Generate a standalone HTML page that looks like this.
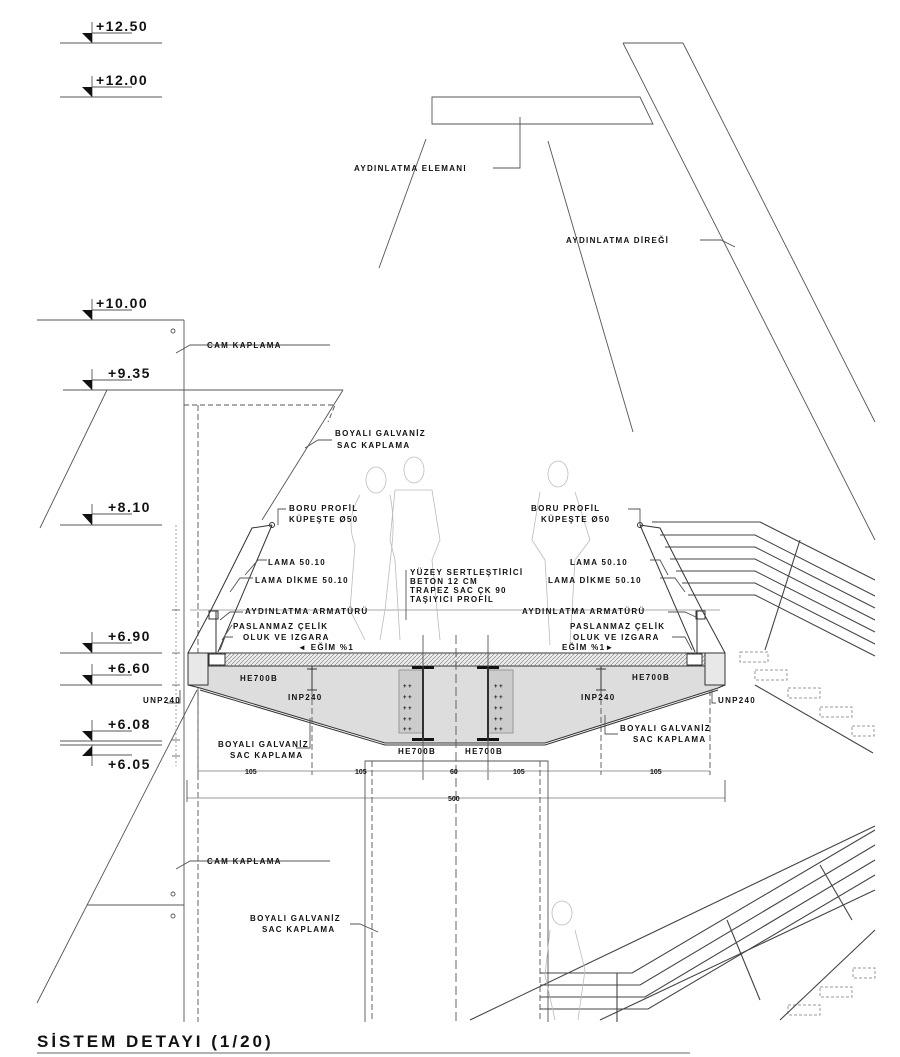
<!DOCTYPE html>
<html><head><meta charset="utf-8"><style>
html,body{margin:0;padding:0;background:#fff;}
svg{display:block;}
text{font-family:"Liberation Sans",sans-serif;font-weight:bold;fill:#111;}
.s{font-size:8px;letter-spacing:1.3px;}
.lv{font-size:14px;letter-spacing:1.5px;font-weight:bold;}
.d{font-size:7px;fill:#888;font-weight:normal;}
</style></head><body>
<svg width="900" height="1057" viewBox="0 0 900 1057" xmlns="http://www.w3.org/2000/svg">
<g fill="none" stroke="#555" stroke-width="0.9">
<g id="lvl">
<line x1="60" y1="43" x2="162" y2="43"/><line x1="92" y1="22" x2="92" y2="43"/><line x1="92" y1="33" x2="132" y2="33"/>
<line x1="60" y1="97" x2="162" y2="97"/><line x1="92" y1="76" x2="92" y2="97"/><line x1="92" y1="87" x2="132" y2="87"/>
<line x1="37" y1="320" x2="184" y2="320"/><line x1="92" y1="299" x2="92" y2="320"/><line x1="92" y1="310" x2="132" y2="310"/>
<line x1="63" y1="390" x2="343" y2="390"/><line x1="92" y1="369" x2="92" y2="390"/><line x1="92" y1="380" x2="132" y2="380"/>
<line x1="60" y1="525" x2="162" y2="525"/><line x1="92" y1="504" x2="92" y2="525"/><line x1="92" y1="514" x2="132" y2="514"/>
<line x1="60" y1="653" x2="162" y2="653"/><line x1="92" y1="632" x2="92" y2="653"/><line x1="92" y1="643" x2="132" y2="643"/>
<line x1="60" y1="685" x2="162" y2="685"/><line x1="92" y1="664" x2="92" y2="685"/><line x1="92" y1="675" x2="132" y2="675"/>
<line x1="60" y1="741" x2="162" y2="741"/><line x1="60" y1="745" x2="162" y2="745"/><line x1="92" y1="720" x2="92" y2="741"/><line x1="92" y1="731" x2="132" y2="731"/>
<line x1="92" y1="745" x2="92" y2="766"/><line x1="92" y1="755" x2="132" y2="755"/>
</g>
<line x1="184" y1="320" x2="184" y2="1022"/>
<line x1="107" y1="390" x2="40" y2="528"/>
<line x1="343" y1="390" x2="262" y2="520"/>
<line x1="197" y1="690" x2="37" y2="1003"/>
<line x1="87" y1="905" x2="184" y2="905"/>
<path d="M184 405 H335 L328 422" stroke-dasharray="5 3"/>
<line x1="198" y1="405" x2="198" y2="1022" stroke-dasharray="6 3"/>
<circle cx="173" cy="331" r="2"/><circle cx="173" cy="894" r="2"/><circle cx="173" cy="916" r="2"/>
<path d="M432 97 H640 L653 124 H432 Z"/>
<line x1="623" y1="43" x2="683" y2="43"/>
<line x1="623" y1="43" x2="875" y2="540"/>
<line x1="683" y1="43" x2="875" y2="422"/>
<line x1="548" y1="141" x2="633" y2="432"/>
<line x1="426" y1="139" x2="379" y2="268"/>
<path d="M493 168 H520 V117"/>
<path d="M700 240 H721 L735 247"/>
<path d="M330 345 H190 L176 353"/>
<line x1="176" y1="525" x2="176" y2="766" stroke="#999" stroke-dasharray="2 2"/>
<g stroke="#666"><line x1="172" y1="610" x2="180" y2="610"/><line x1="172" y1="653" x2="180" y2="653"/><line x1="172" y1="685" x2="180" y2="685"/><line x1="172" y1="740" x2="180" y2="740"/><line x1="172" y1="756" x2="180" y2="756"/></g>
<line x1="190" y1="610" x2="720" y2="610" stroke="#aaa"/>
</g>
<g fill="#111">
<path d="M82 33 L92 33 L92 43 Z"/><path d="M82 87 L92 87 L92 97 Z"/><path d="M82 310 L92 310 L92 320 Z"/><path d="M82 380 L92 380 L92 390 Z"/>
<path d="M82 514 L92 514 L92 525 Z"/><path d="M82 643 L92 643 L92 653 Z"/><path d="M82 675 L92 675 L92 685 Z"/><path d="M82 731 L92 731 L92 741 Z"/><path d="M82 756 L92 746 L92 756 Z"/>
</g>
<defs><pattern id="hatch" width="4" height="4" patternUnits="userSpaceOnUse"><path d="M0 4 L4 0" stroke="#888" stroke-width="0.7"/></pattern></defs>
<g stroke="#333" stroke-width="1">
<path d="M188 653 H725 V685 L718 688 L545 743 H385 L200 688 L188 685 Z" fill="#ddd"/>
<rect x="208" y="653" width="497" height="13" fill="#eee"/>
<rect x="208" y="653" width="497" height="13" fill="url(#hatch)" stroke="none"/>
<rect x="188" y="653" width="20" height="32" fill="#e8e8e8"/>
<rect x="705" y="653" width="20" height="32" fill="#e8e8e8"/>
<rect x="209" y="654" width="16" height="11" fill="#fff"/>
<rect x="687" y="654" width="15" height="11" fill="#fff"/>
<rect x="399" y="670" width="24" height="63" fill="#ccc" stroke="#999"/>
<rect x="488" y="670" width="25" height="63" fill="#ccc" stroke="#999"/>
<path d="M200 690 L385 745 H545 L718 690" fill="none"/>
</g>
<g fill="#111"><rect x="412" y="666" width="22" height="3"/><rect x="412" y="738" width="22" height="3"/><rect x="422" y="666" width="2" height="74"/>
<rect x="477" y="666" width="22" height="3"/><rect x="477" y="738" width="22" height="3"/><rect x="487" y="666" width="2" height="74"/>
<g font-size="6"><text x="403" y="688">+ +</text><text x="403" y="699">+ +</text><text x="403" y="710">+ +</text><text x="403" y="721">+ +</text><text x="403" y="731">+ +</text>
<text x="494" y="688">+ +</text><text x="494" y="699">+ +</text><text x="494" y="710">+ +</text><text x="494" y="721">+ +</text><text x="494" y="731">+ +</text></g>
</g>
<g fill="none" stroke="#333" stroke-width="1">
<path d="M272 525 L252 528 L210 612 L188 653"/>
<line x1="272" y1="525" x2="218" y2="652"/>
<path d="M640 525 L660 528 L703 612 L725 653"/>
<line x1="640" y1="525" x2="695" y2="652"/>
<rect x="209" y="611" width="9" height="8"/><line x1="216" y1="611" x2="216" y2="654"/>
<rect x="696" y="611" width="9" height="8"/><line x1="697" y1="611" x2="697" y2="654"/>
<circle cx="272" cy="525" r="2.5"/><circle cx="640" cy="525" r="2.5"/>
<line x1="312" y1="666" x2="312" y2="690"/><line x1="307" y1="690" x2="317" y2="690"/><line x1="307" y1="669" x2="317" y2="669"/>
<line x1="601" y1="666" x2="601" y2="690"/><line x1="596" y1="690" x2="606" y2="690"/><line x1="596" y1="669" x2="606" y2="669"/>
</g>
<g stroke="#555" stroke-width="0.9" fill="none">
<line x1="456" y1="635" x2="456" y2="1022" stroke-dasharray="9 4"/>
<line x1="423" y1="635" x2="423" y2="780"/><line x1="488" y1="635" x2="488" y2="780"/>
<line x1="198" y1="771" x2="710" y2="771" stroke="#999"/>
<g stroke-dasharray="6 3"><line x1="198" y1="690" x2="198" y2="775"/><line x1="312" y1="690" x2="312" y2="775"/><line x1="601" y1="690" x2="601" y2="775"/><line x1="710" y1="690" x2="710" y2="775"/></g>
<line x1="187" y1="798" x2="725" y2="798" stroke="#999"/>
<line x1="187" y1="780" x2="187" y2="802"/><line x1="725" y1="780" x2="725" y2="802"/>
<path d="M365 1022 V761 H548 V1022"/>
<line x1="372" y1="761" x2="372" y2="1022" stroke-dasharray="6 3"/>
<line x1="540" y1="761" x2="540" y2="1022" stroke-dasharray="6 3"/>
<path d="M305 448 L318 440 H332"/>
<path d="M286 509 H278 V525"/><path d="M628 509 H640 V525"/>
<path d="M267 560 H258 L245 575"/><path d="M650 560 H660 L668 575"/>
<path d="M253 578 H240 L230 592"/><path d="M660 578 H675 L685 592"/>
<path d="M406 570 V620"/>
<path d="M243 612 H230 L220 620"/><path d="M668 612 H685 L698 618"/>
<path d="M232 625 L222 640"/><path d="M233 637 H225 L220 650"/>
<path d="M672 637 H685 L692 650"/>
<path d="M296 748 H310 V718"/><path d="M618 734 H605 V715"/>
<path d="M167 703 H180 V690"/><path d="M716 703 H712 V690"/>
<path d="M330 861 H190 L176 869"/>
<path d="M350 924 H360 L378 932"/>
</g>
<g stroke="#444" stroke-width="1.1" fill="none">
<path d="M652 522 H760 L875 580"/>
<path d="M660 535 H755 L875 596"/>
<path d="M665 547 H755 L875 608"/>
<path d="M670 559 H755 L875 620"/>
<path d="M676 571 H755 L875 632"/>
<path d="M682 583 H755 L875 644"/>
<path d="M688 595 H755 L875 656"/>
<line x1="800" y1="540" x2="765" y2="650"/>
<line x1="755" y1="685" x2="873" y2="753"/>
</g>
<g stroke="#999" stroke-dasharray="3 2" fill="none">
<rect x="740" y="652" width="28" height="10"/><rect x="755" y="670" width="32" height="10"/><rect x="788" y="688" width="32" height="10"/><rect x="820" y="707" width="32" height="10"/><rect x="852" y="726" width="22" height="10"/>
<rect x="853" y="968" width="22" height="10"/><rect x="820" y="987" width="32" height="10"/><rect x="788" y="1005" width="32" height="10"/>
</g>
<g stroke="#444" stroke-width="1.1" fill="none">
<path d="M470 1020 L875 826"/>
<path d="M540 973 H632 L875 830"/>
<path d="M540 985 H640 L875 845"/>
<path d="M540 997 H645 L875 860"/>
<path d="M540 1009 H648 L875 875"/>
<path d="M600 1020 L875 890"/>
<line x1="617" y1="973" x2="617" y2="1022"/>
<line x1="727" y1="920" x2="760" y2="1000"/>
<line x1="820" y1="865" x2="852" y2="920"/>
<line x1="875" y1="930" x2="780" y2="1020"/>
</g>
<g stroke="#bbb" stroke-width="0.8" fill="none">
<ellipse cx="376" cy="480" rx="10" ry="13"/><path d="M360 495 Q345 520 355 545 L350 610 L365 640 M390 495 Q395 520 392 545 L385 610 L380 640"/>
<ellipse cx="414" cy="470" rx="10" ry="13"/><path d="M395 490 L390 540 L395 560 L400 640 M432 490 L440 540 L432 560 L440 640 M395 490 H432"/>
<ellipse cx="558" cy="474" rx="10" ry="13"/><path d="M540 492 L532 540 L545 560 L550 645 M575 492 L590 540 L575 560 L570 645"/>
<ellipse cx="562" cy="913" rx="10" ry="12"/><path d="M550 930 L545 975 L555 1020 M575 930 L585 970 L578 1020"/>
</g>
<g>
<text class="lv" x="96" y="31">+12.50</text><text class="lv" x="96" y="85">+12.00</text>
<text class="lv" x="96" y="308">+10.00</text><text class="lv" x="108" y="378">+9.35</text>
<text class="lv" x="108" y="512">+8.10</text><text class="lv" x="108" y="641">+6.90</text>
<text class="lv" x="108" y="673">+6.60</text><text class="lv" x="108" y="729">+6.08</text><text class="lv" x="108" y="769">+6.05</text>
</g>
<g>
<text x="354" y="171" class="s">AYDINLATMA ELEMANI</text>
<text x="566" y="243" class="s">AYDINLATMA DİREĞİ</text>
<text x="207" y="348" class="s">CAM KAPLAMA</text>
<text x="335" y="436" class="s">BOYALI GALVANİZ</text><text x="337" y="448" class="s">SAC KAPLAMA</text>
<text x="289" y="511" class="s">BORU PROFİL</text><text x="289" y="522" class="s">KÜPEŞTE Ø50</text>
<text x="531" y="511" class="s">BORU PROFİL</text><text x="541" y="522" class="s">KÜPEŞTE Ø50</text>
<text x="268" y="565" class="s">LAMA 50.10</text><text x="570" y="565" class="s">LAMA 50.10</text>
<text x="255" y="583" class="s">LAMA DİKME 50.10</text><text x="548" y="583" class="s">LAMA DİKME 50.10</text>
<text x="410" y="575" class="s">YÜZEY SERTLEŞTİRİCİ</text><text x="410" y="584" class="s">BETON 12 CM</text>
<text x="410" y="593" class="s">TRAPEZ SAC ÇK 90</text><text x="410" y="602" class="s">TAŞIYICI PROFİL</text>
<text x="245" y="614" class="s">AYDINLATMA ARMATÜRÜ</text><text x="522" y="614" class="s">AYDINLATMA ARMATÜRÜ</text>
<text x="233" y="629" class="s">PASLANMAZ ÇELİK</text><text x="570" y="629" class="s">PASLANMAZ ÇELİK</text>
<text x="243" y="640" class="s">OLUK VE IZGARA</text><text x="573" y="640" class="s">OLUK VE IZGARA</text>
<text x="298" y="650" class="s">◄ EĞİM %1</text><text x="562" y="650" class="s">EĞİM %1►</text>
<text x="240" y="681" class="s">HE700B</text><text x="632" y="680" class="s">HE700B</text>
<text x="288" y="700" class="s">INP240</text><text x="581" y="700" class="s">INP240</text>
<text x="143" y="703" class="s">UNP240</text><text x="718" y="703" class="s">UNP240</text>
<text x="218" y="747" class="s">BOYALI GALVANİZ</text><text x="230" y="758" class="s">SAC KAPLAMA</text>
<text x="620" y="731" class="s">BOYALI GALVANİZ</text><text x="633" y="742" class="s">SAC KAPLAMA</text>
<text x="398" y="754" class="s">HE700B</text><text x="465" y="754" class="s">HE700B</text>
<text x="207" y="864" class="s">CAM KAPLAMA</text>
<text x="250" y="921" class="s">BOYALI GALVANİZ</text><text x="262" y="932" class="s">SAC KAPLAMA</text>
</g>
<g class="d"><text x="245" y="774">105</text><text x="355" y="774">105</text><text x="450" y="774">60</text><text x="513" y="774">105</text><text x="650" y="774">105</text><text x="448" y="801">500</text></g>
<text x="37" y="1047" style="font-size:17px;letter-spacing:3px;font-weight:bold">SİSTEM DETAYI  (1/20)</text>
<line x1="37" y1="1053" x2="690" y2="1053" stroke="#666"/>
</svg>
</body></html>
